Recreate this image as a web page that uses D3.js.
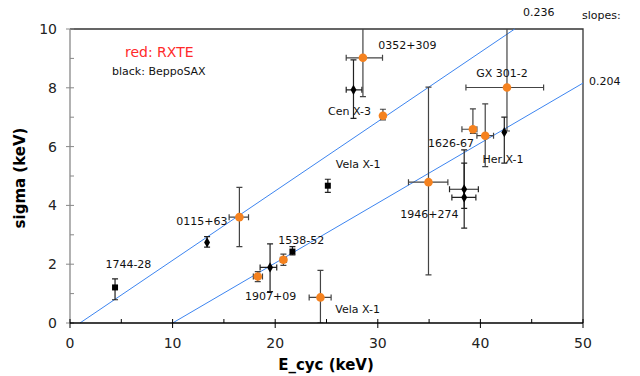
<!DOCTYPE html>
<html>
<head>
<meta charset="utf-8">
<script src="https://cdn.jsdelivr.net/npm/d3@7"></script>
<style>
  body { margin: 0; background: #fff; }
  svg { display: block; font-family: "DejaVu Sans", Verdana, sans-serif; }
</style>
</head>
<body>
<div id="chart"></div>
<script>
// RXTE (orange) points: name, E, sigma, error ranges
const rxteNames = ['0352+309', 'Cen X-3', 'GX 301-2', '1626-67', 'Her X-1', '1946+274', '0115+63', '1907+09', '1538-52', 'Vela X-1'];
const rxteE     = [28.55, 30.50, 42.59, 39.27, 40.47, 34.94, 16.51, 18.30, 20.80, 24.41];
const rxteSig   = [9.02, 7.05, 8.01, 6.59, 6.37, 4.79, 3.60, 1.58, 2.15, 0.87];
const rxteElo   = [26.92, 30.50, 38.59, 38.20, 39.66, 32.99, 15.51, 17.87, 20.50, 23.31];
const rxteEhi   = [30.46, 30.50, 46.16, 39.66, 41.28, 36.83, 17.40, 18.76, 21.10, 25.45];
const rxteSlo   = [7.70, 6.91, 6.53, 6.45, 5.32, 1.64, 2.60, 1.41, 1.96, 0.00];
const rxteShi   = [10.5, 7.27, 10.5, 7.28, 7.45, 8.02, 4.61, 1.75, 2.34, 1.79];

// BeppoSAX (black) points
const saxNames = ['1744-28', '0115+63', '1907+09', '1538-52', 'Vela X-1', '0352+309', '1946+274', '1946+274b', 'Her X-1'];
const saxE     = [4.39, 13.36, 19.50, 21.68, 25.13, 27.63, 38.42, 38.42, 42.33];
const saxSig   = [1.21, 2.74, 1.89, 2.43, 4.67, 7.93, 4.55, 4.27, 6.49];
const saxElo   = [4.39, 13.36, 18.53, 21.68, 25.13, 26.92, 36.99, 37.22, 42.33];
const saxEhi   = [4.39, 13.36, 20.15, 21.68, 25.13, 28.45, 39.80, 39.56, 42.33];
const saxSlo   = [0.79, 2.58, 1.07, 2.32, 4.44, 6.96, 3.90, 3.23, 5.44];
const saxShi   = [1.50, 2.94, 2.69, 2.60, 4.89, 8.95, 5.44, 5.89, 7.00];

// fitted lines: sigma = slope * (E - E0)
const lineSlopes = [0.236, 0.204];
const lineE0     = [0.97, 10];

// source labels placed at data coordinates
const labelText = ['0352+309', 'Cen X-3', 'GX 301-2', '1626-67', 'Her X-1', 'Vela X-1', '1946+274', '0115+63', '1744-28', '1538-52', '1907+09', 'Vela X-1'];
const labelE    = [30.05, 25.15, 39.6, 34.9, 40.2, 25.9, 32.2, 10.35, 3.45, 20.3, 17.05, 25.85];
const labelSig  = [9.45, 7.2, 8.5, 6.12, 5.57, 5.4, 3.7, 3.46, 2.0, 2.83, 0.93, 0.47];

const xTicks = [0, 10, 20, 30, 40, 50];
const yTicks = [0, 2, 4, 6, 8, 10];

const W = 640, H = 376;
const MARGIN = {top: 29, right: 57, bottom: 53, left: 70};

const svg = d3.select('#chart').append('svg')
  .attr('width', W).attr('height', H);

const x = d3.scaleLinear().domain([0, 50]).range([MARGIN.left, W - MARGIN.right]);
const y = d3.scaleLinear().domain([0, 10]).range([H - MARGIN.bottom, MARGIN.top]);

// frame: top and right
svg.append('path')
  .attr('d', `M${x(0)},${y(10)}H${x(50)}V${y(0)}`)
  .attr('fill', 'none').attr('stroke', '#333').attr('stroke-width', 1.3);

const clip = svg.append('clipPath').attr('id', 'plot')
  .append('rect').attr('x', x(0)).attr('y', y(10))
  .attr('width', x(50) - x(0)).attr('height', y(0) - y(10));

// fit lines
const lines = lineSlopes.map((s, i) => {
  const eEnd = Math.min(50, lineE0[i] + 10 / s);
  return [[lineE0[i], 0], [eEnd, s * (eEnd - lineE0[i])]];
});
svg.append('g').selectAll('line').data(lines).enter().append('line')
  .attr('x1', d => x(d[0][0])).attr('y1', d => y(d[0][1]))
  .attr('x2', d => x(d[1][0])).attr('y2', d => y(d[1][1]))
  .attr('stroke', '#3d85f0').attr('stroke-width', 1);

const toPts = (names, E, S, Elo, Ehi, Slo, Shi) =>
  names.map((n, i) => ({name: n, e: E[i], s: S[i], elo: Elo[i], ehi: Ehi[i], slo: Slo[i], shi: Shi[i]}));

const rxte = toPts(rxteNames, rxteE, rxteSig, rxteElo, rxteEhi, rxteSlo, rxteShi);
const sax = toPts(saxNames, saxE, saxSig, saxElo, saxEhi, saxSlo, saxShi);

const errbars = (data, color) => {
  const g = svg.append('g').attr('clip-path', 'url(#plot)')
    .attr('stroke', color).attr('stroke-width', 1.2).attr('fill', 'none');
  const sel = g.selectAll('g').data(data).enter().append('g');
  sel.filter(d => d.shi > d.slo).append('path')
    .attr('d', d => `M${x(d.e)},${y(d.slo)}V${y(d.shi)}` +
      `M${x(d.e) - 3},${y(d.slo)}h6M${x(d.e) - 3},${y(d.shi)}h6`);
  sel.filter(d => d.ehi > d.elo).append('path')
    .attr('d', d => `M${x(d.elo)},${y(d.s)}H${x(d.ehi)}` +
      `M${x(d.elo)},${y(d.s) - 3}v6M${x(d.ehi)},${y(d.s) - 3}v6`);
};

errbars(sax, '#222');
errbars(rxte, '#444');

// black markers
const squares = new Set(['1744-28', '1538-52', 'Vela X-1']);
svg.append('g').selectAll('path').data(sax).enter().append('path')
  .attr('transform', d => `translate(${x(d.e)},${y(d.s)})`)
  .attr('d', d => squares.has(d.name)
    ? d3.symbol(d3.symbolSquare, 36)()
    : d3.symbol(d3.symbolDiamond, 30)())
  .attr('fill', '#000');

// orange markers
svg.append('g').selectAll('circle').data(rxte).enter().append('circle')
  .attr('cx', d => x(d.e)).attr('cy', d => y(d.s)).attr('r', 4.3)
  .attr('fill', '#f5821f');

// axes
const yAxisG = svg.append('g');
yAxisG.append('line')
  .attr('x1', x(0)).attr('x2', x(0)).attr('y1', y(0)).attr('y2', y(10))
  .attr('stroke', '#888').attr('stroke-width', 1.3);
yAxisG.selectAll('.minor').data(d3.range(0, 11)).enter().append('line')
  .attr('x1', d => yTicks.includes(d) ? x(0) - 4 : x(0))
  .attr('x2', x(0) + 4)
  .attr('y1', d => y(d)).attr('y2', d => y(d))
  .attr('stroke', '#888');
yAxisG.selectAll('text').data(yTicks).enter().append('text')
  .attr('x', 57).attr('y', d => y(d)).attr('dy', '0.36em')
  .attr('text-anchor', 'end').attr('font-size', 14).attr('fill', '#222')
  .text(d => d);

const xAxisG = svg.append('g');
xAxisG.append('line')
  .attr('x1', x(0)).attr('x2', x(50)).attr('y1', y(0)).attr('y2', y(0))
  .attr('stroke', '#000').attr('stroke-width', 1.3);
xAxisG.selectAll('.tick').data(d3.range(0, 55, 5)).enter().append('line')
  .attr('x1', d => x(d)).attr('x2', d => x(d))
  .attr('y1', y(0) - 4)
  .attr('y2', d => xTicks.includes(d) ? y(0) + 5 : y(0))
  .attr('stroke', '#000');
xAxisG.selectAll('text').data(xTicks).enter().append('text')
  .attr('x', d => x(d)).attr('y', 348)
  .attr('text-anchor', 'middle').attr('font-size', 14).attr('fill', '#222')
  .text(d => d);

// axis titles
svg.append('text')
  .attr('x', 326).attr('y', 370)
  .attr('text-anchor', 'middle').attr('font-size', 15).attr('font-weight', 'bold')
  .text('E_cyc (keV)');
svg.append('text')
  .attr('transform', `translate(25,178) rotate(-90)`)
  .attr('text-anchor', 'middle').attr('font-size', 15).attr('font-weight', 'bold')
  .text('sigma (keV)');

// source labels
svg.append('g').selectAll('text').data(labelText).enter().append('text')
  .attr('x', (d, i) => x(labelE[i])).attr('y', (d, i) => y(labelSig[i]))
  .attr('dy', '0.36em').attr('font-size', 11).attr('fill', '#111')
  .text(d => d);

// legend and slope notes
svg.append('text').attr('x', 125).attr('y', 52).attr('dy', '0.36em')
  .attr('font-size', 14).attr('fill', '#ff2a2a').text('red:  RXTE');
svg.append('text').attr('x', 112).attr('y', 71).attr('dy', '0.36em')
  .attr('font-size', 11).attr('fill', '#111').text('black: BeppoSAX');
svg.append('text').attr('x', 523).attr('y', 12).attr('dy', '0.36em')
  .attr('font-size', 11).attr('fill', '#111').text(lineSlopes[0].toFixed(3));
svg.append('text').attr('x', 582).attr('y', 15).attr('dy', '0.36em')
  .attr('font-size', 11).attr('fill', '#111').text('slopes:');
svg.append('text').attr('x', 589).attr('y', 81).attr('dy', '0.36em')
  .attr('font-size', 11).attr('fill', '#111').text(lineSlopes[1].toFixed(3));
</script>
</body>
</html>
